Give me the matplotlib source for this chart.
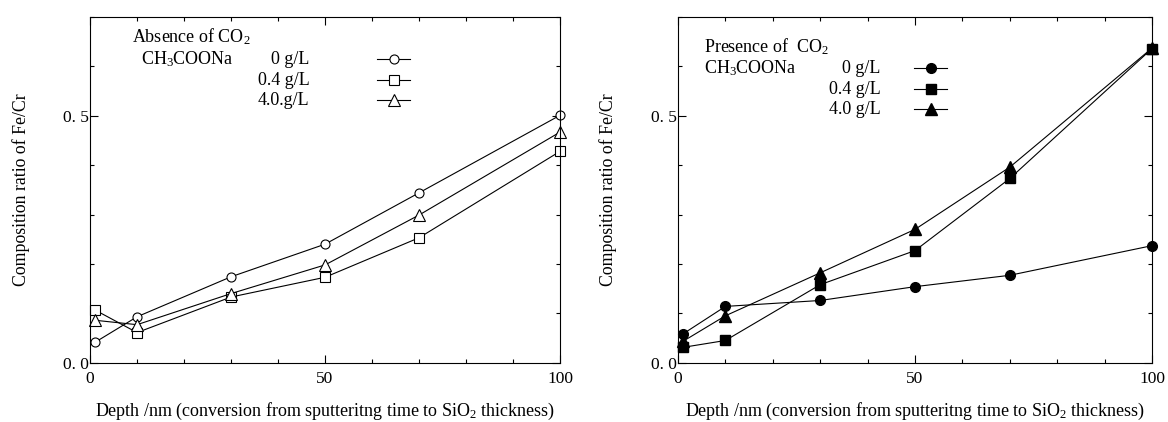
import matplotlib
matplotlib.use("Agg")
import matplotlib.pyplot as plt
from matplotlib.ticker import MultipleLocator, FixedLocator

plt.rcParams["font.family"] = ["Liberation Serif", "DejaVu Serif"]
plt.rcParams["mathtext.fontset"] = "custom"
plt.rcParams["mathtext.rm"] = "Liberation Serif"
plt.rcParams["mathtext.it"] = "Liberation Serif:italic"

# data
depth = [1, 10, 30, 50, 70, 100]

# absence of CO2
abs_0g = [0.041, 0.093, 0.174, 0.240, 0.344, 0.501]
abs_04g = [0.107, 0.061, 0.133, 0.173, 0.253, 0.428]
abs_40g = [0.086, 0.077, 0.140, 0.198, 0.299, 0.467]

# presence of CO2
pre_0g = [0.058, 0.114, 0.126, 0.154, 0.177, 0.237]
pre_04g = [0.031, 0.045, 0.158, 0.227, 0.373, 0.636]
pre_40g = [0.043, 0.095, 0.182, 0.270, 0.396, 0.637]

conc_labels_abs = ["0 g/L", "0.4 g/L", "4.0.g/L"]
conc_labels_pre = ["0 g/L", "0.4 g/L", "4.0 g/L"]
yticklabels = ["0. 0", "0. 5"]

FS = 13
LW = 0.8

fig = plt.figure(figsize=(11.68, 4.22), dpi=100)
ax1 = fig.add_axes([0.0771, 0.1405, 0.4024, 0.8192])
ax2 = fig.add_axes([0.5805, 0.1405, 0.4058, 0.8192])


def style_axes(ax):
    ax.set_xlim(0, 100)
    ax.set_ylim(0, 0.7)
    ax.xaxis.set_major_locator(FixedLocator([0, 50, 100]))
    ax.xaxis.set_minor_locator(MultipleLocator(10))
    ax.yaxis.set_major_locator(FixedLocator([0.0, 0.5]))
    ax.yaxis.set_minor_locator(MultipleLocator(0.1))
    ax.set_yticklabels(yticklabels)
    ax.tick_params(which="both", direction="in", top=True, right=True,
                   width=LW, labelsize=12.5)
    ax.tick_params(which="major", length=6)
    ax.tick_params(which="minor", length=3)
    ax.tick_params(axis="x", which="major", pad=6)
    ax.tick_params(axis="y", which="major", pad=1)
    for sp in ax.spines.values():
        sp.set_linewidth(LW)
    ax.set_xlabel("Depth /nm (conversion from sputteritng time to SiO$_2$ thickness)",
                  fontsize=FS)
    ax.xaxis.set_label_coords(0.5, -0.11)
    ax.set_ylabel("Composition ratio of Fe/Cr", fontsize=12.8)
    ax.yaxis.set_label_coords(-0.128, 0.5)


# left: absence
style_axes(ax1)
series_abs = [
    (abs_0g, dict(marker="o", ms=6.5)),
    (abs_04g, dict(marker="s", ms=6.5)),
    (abs_40g, dict(marker="^", ms=8.5)),
]
for vals, st in series_abs:
    ax1.plot(depth, vals, color="black", lw=LW, mfc="white", mec="black",
             mew=LW, clip_on=False, **st)

ax1.text(0.09, 0.942, "Absence of CO$_2$", transform=ax1.transAxes,
         fontsize=FS, va="center", ha="left")
ax1.text(0.109, 0.878, "CH$_3$COONa", transform=ax1.transAxes,
         fontsize=FS, va="center", ha="left")
rows_abs = [0.878, 0.817, 0.759]
for (vals, st), lab, yy in zip(series_abs, conc_labels_abs, rows_abs):
    ax1.text(0.467, yy, lab, transform=ax1.transAxes, fontsize=FS,
             va="center", ha="right")
    ax1.plot([0.611, 0.680], [yy, yy], transform=ax1.transAxes, color="black",
             lw=LW)
    ax1.plot([0.647], [yy], transform=ax1.transAxes, color="black",
             mfc="white", mec="black", mew=LW, ls="none", **st)

# right: presence
style_axes(ax2)
series_pre = [
    (pre_0g, dict(marker="o", ms=7)),
    (pre_04g, dict(marker="s", ms=7)),
    (pre_40g, dict(marker="^", ms=9)),
]
for vals, st in series_pre:
    ax2.plot(depth, vals, color="black", lw=LW, mfc="black", mec="black",
             clip_on=False, **st)

ax2.text(0.055, 0.914, "Presence of  CO$_2$", transform=ax2.transAxes,
         fontsize=FS, va="center", ha="left")
ax2.text(0.055, 0.852, "CH$_3$COONa", transform=ax2.transAxes,
         fontsize=FS, va="center", ha="left")
rows_pre = [0.852, 0.791, 0.733]
for (vals, st), lab, yy in zip(series_pre, conc_labels_pre, rows_pre):
    ax2.text(0.427, yy, lab, transform=ax2.transAxes, fontsize=FS,
             va="center", ha="right")
    ax2.plot([0.498, 0.568], [yy, yy], transform=ax2.transAxes, color="black",
             lw=LW)
    ax2.plot([0.533], [yy], transform=ax2.transAxes, color="black",
             mfc="black", mec="black", ls="none", **st)

fig.savefig("out.png", dpi=100)
